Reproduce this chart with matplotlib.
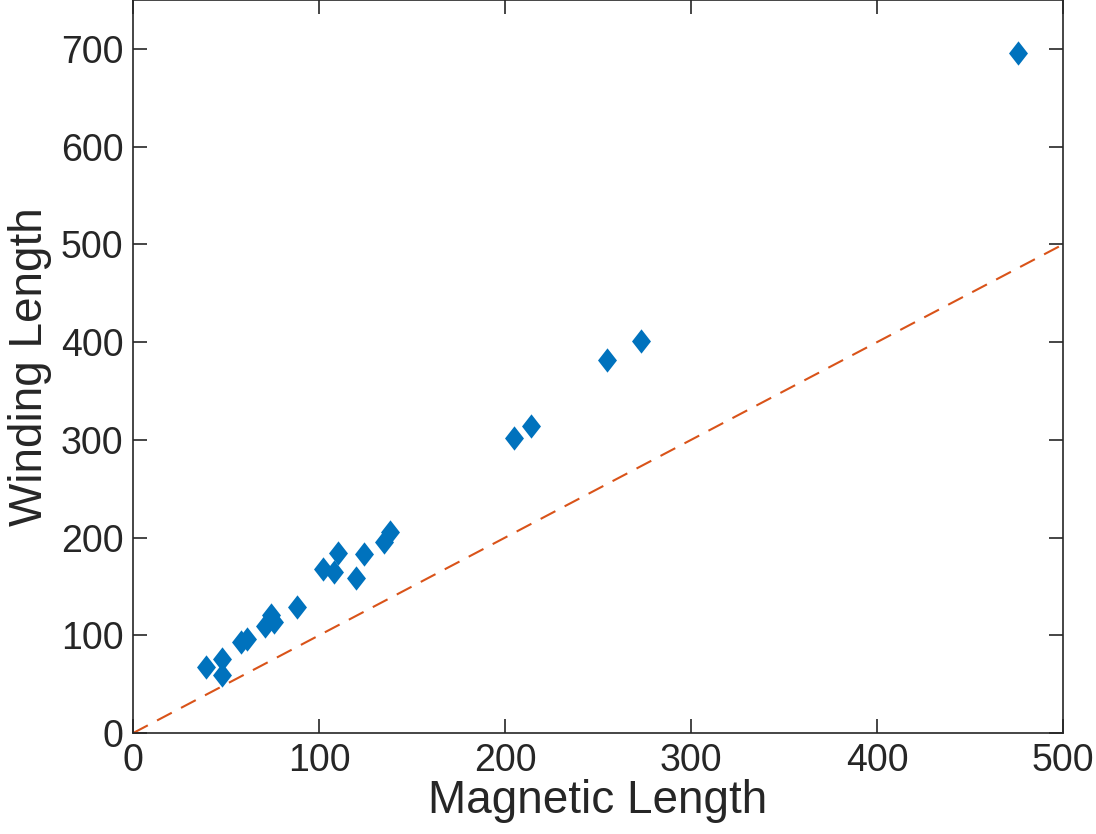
import matplotlib.pyplot as plt

# magnetic length vs winding length
magnetic = [39, 48, 48, 58, 61, 71, 74, 76, 88, 102, 108, 110, 120, 124,
            135, 138, 205, 214, 255, 273, 476]
winding = [68, 76, 59, 93, 96, 110, 121, 114, 129, 168, 165, 184, 159, 183,
           196, 206, 302, 314, 382, 401, 696]

ref_x = [0, 500]
ref_y = [0, 500]

plt.rcParams['font.family'] = ['Liberation Sans', 'DejaVu Sans']

# MATLAB style diamond (wider than matplotlib's 'd')
diamond = [(0, 1), (0.78, 0), (0, -1), (-0.78, 0), (0, 1)]

fig = plt.figure(figsize=(10.96, 8.34), dpi=100)
ax = fig.add_axes([0.1214, 0.121, 0.8486, 0.879])

ax.plot(magnetic, winding, linestyle='none', marker=diamond, markersize=17.5,
        color='#0072BD', markeredgewidth=0)
ax.plot(ref_x, ref_y, linestyle=(0, (8, 5)), color='#D95319', linewidth=1.5)

ax.set_xlim(0, 500)
ax.set_ylim(0, 750)
ax.set_xticks([0, 100, 200, 300, 400, 500])
ax.set_yticks([0, 100, 200, 300, 400, 500, 600, 700])
ax.tick_params(direction='in', length=10, width=1.2, labelsize=27,
               top=True, right=True, colors='#262626', pad=7)
for s in ax.spines.values():
    s.set_linewidth(1.2)
    s.set_color('#262626')

ax.set_xlabel('Magnetic Length', fontsize=33, color='#262626', labelpad=0)
ax.set_ylabel('Winding Length', fontsize=33, color='#262626', labelpad=6)

fig.savefig('out.png', dpi=100)
